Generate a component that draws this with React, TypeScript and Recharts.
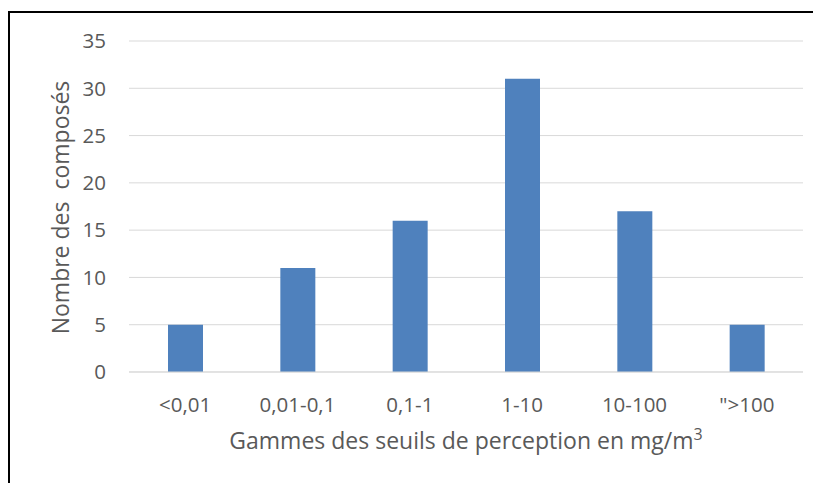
import React from "react";
import { BarChart, Bar, XAxis, YAxis, CartesianGrid } from "recharts";

const categories = ["<0,01", "0,01-0,1", "0,1-1", "1-10", "10-100", "\">100"];
const counts = [5, 11, 16, 31, 17, 5];
const yTicks = [0, 5, 10, 15, 20, 25, 30, 35];

const data = categories.map((c, i) => ({ range: c, value: counts[i] }));

const FONT = "'Open Sans', Lato, sans-serif";
const TFONT = "'Open Sans', Lato, sans-serif";
const TXT = "#595959";

const XTick = (props: any) => {
  const { x, y, payload } = props;
  return (
    <text x={x} y={y + 33} dy="0.355em" textAnchor="middle" fill={TXT} fontSize={20.5} fontFamily={FONT}>
      {payload.value}
    </text>
  );
};

const YTick = (props: any) => {
  const { x, y, payload } = props;
  return (
    <text x={x} y={y} dy="0.355em" textAnchor="end" fill={TXT} fontSize={20.5} fontFamily={FONT}>
      {payload.value}
    </text>
  );
};

const XTitle = (props: any) => {
  const vb = props.viewBox || {};
  const cx = vb.x + vb.width / 2;
  return (
    <text x={cx} y={441} textAnchor="middle" fill={TXT} fontSize={23} fontFamily={TFONT}>
      Gammes des seuils de perception en mg/m
      <tspan fontSize={16} dy={-9}>3</tspan>
    </text>
  );
};

const YTitle = () => {
  const cx = 53;
  const cy = 199.5;
  return (
    <text
      x={cx}
      y={cy}
      dy="0.355em"
      textAnchor="middle"
      fill={TXT}
      fontSize={23}
      fontFamily={TFONT}
      transform={`rotate(-90 ${cx} ${cy})`}
      style={{ whiteSpace: "pre" }}
    >
      {"Nombre des\u00a0 composés"}
    </text>
  );
};

export default function App() {
  return (
    <div style={{ position: "relative", width: 813, height: 475, overflow: "hidden" }}>
      <div
        style={{
          position: "absolute",
          left: 0,
          top: 3,
          width: 813,
          height: 472,
          borderLeft: "2px solid #000",
          borderTop: "2px solid #000",
          boxSizing: "border-box",
        }}
      />
      <div style={{ position: "absolute", left: 0, top: 0 }}>
        <BarChart
          width={813}
          height={475}
          data={data}
          margin={{ top: 33, right: 18, left: 0, bottom: 0 }}
          barCategoryGap={0}
        >
          <CartesianGrid vertical={false} stroke="#d9d9d9" strokeWidth={1} />
          <XAxis
            dataKey="range"
            axisLine={{ stroke: "#d9d9d9" }}
            tickLine={false}
            tickSize={0}
            tickMargin={0}
            height={111}
            interval={0}
            tick={<XTick />}
            label={<XTitle />}
          />
          <YAxis
            domain={[0, 35]}
            ticks={yTicks}
            axisLine={false}
            tickLine={false}
            tickSize={0}
            tickMargin={23}
            width={121}
            tick={<YTick />}
            label={<YTitle />}
          />
          <Bar dataKey="value" fill="#4f81bd" barSize={35} isAnimationActive={false} />
        </BarChart>
      </div>
    </div>
  );
}
